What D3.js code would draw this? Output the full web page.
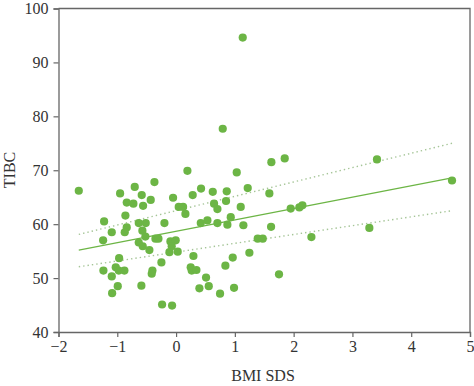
<!DOCTYPE html>
<html lang="en">
<head>
    <meta charset="UTF-8">
    <title>TIBC vs BMI SDS</title>
    <script src="https://d3js.org/d3.v7.min.js"></script>
    <style>
        body {background:#fff; margin:0}
        svg text {font-family:"Liberation Serif", "DejaVu Serif", serif; fill:#333}
    </style>
</head>
<body>
<svg id="chart" width="474" height="386"></svg>

<script>
// BMI SDS (x) and TIBC (y) for each child
var bmiSds = [-1.655, -1.224, -1.241, -1.236, -1.094, -1.094, -1.088, -0.952, -0.969, -1.026,
    -0.975, -0.992, -0.879, -0.839, -0.726, -0.703, -0.862, -0.839, -0.873, -0.584,
    -0.561, -0.635, -0.516, -0.573, -0.522, -0.635, -0.567, -0.590, -0.431, -0.368,
    -0.454, -0.351, -0.300, -0.402, -0.414, -0.249, -0.238, -0.198, -0.068, -0.051,
    -0.096, -0.006, -0.074, -0.113, 0.028, 0.045, 0.119, 0.159, 0.193, 0.283,
    0.295, 0.249, 0.266, 0.346, 0.425, 0.420, 0.397, 0.510, 0.533, 0.556,
    0.624, 0.646, 0.703, 0.703, 0.794, 0.748, 0.862, 0.850, 0.873, 0.930,
    0.839, 0.964, 0.986, 1.032, 1.100, 1.134, 1.145, 1.219, 1.247, 1.389,
    1.474, 1.587, 1.621, 1.616, 1.751, 1.848, 1.950, 2.097, 2.149, 2.302,
    3.288, 3.418, 4.694];
var tibc = [66.2, 60.5, 57.0, 51.4, 58.5, 50.3, 47.2, 65.7, 53.7, 52.0,
    51.4, 48.5, 51.4, 64.0, 63.8, 66.9, 61.6, 59.4, 58.5, 65.4,
    63.4, 60.2, 60.2, 58.8, 57.7, 56.6, 55.9, 48.6, 64.5, 67.8,
    55.2, 57.3, 57.3, 51.4, 50.8, 52.9, 45.1, 60.2, 44.9, 64.9,
    56.8, 57.0, 55.9, 54.8, 54.9, 63.2, 63.2, 61.9, 69.9, 65.4,
    54.1, 52.0, 51.4, 51.5, 66.6, 60.2, 48.1, 50.1, 60.7, 48.5,
    66.0, 63.8, 62.8, 60.2, 77.7, 47.1, 66.1, 64.3, 59.9, 61.3,
    52.3, 53.8, 48.2, 69.6, 63.2, 94.6, 59.8, 66.7, 54.7, 57.3,
    57.3, 65.7, 71.5, 59.5, 50.7, 72.2, 62.9, 63.1, 63.5, 57.6,
    59.3, 72.0, 68.1];

// fitted line and confidence band end points
var fitX = [-1.655, 4.694];
var fitY = [55.2, 68.6];
var upperY = [58.1, 75.0];
var lowerY = [52.1, 62.5];

var xTicks = [-2, -1, 0, 1, 2, 3, 4, 5];
var yTicks = [40, 50, 60, 70, 80, 90, 100];

var margin = {left: 58.5, right: 4, top: 8.5, bottom: 54};
var width = 474, height = 386;
var serif = "'Liberation Serif', 'DejaVu Serif', serif";

var svg = d3.select('#chart');

var x = d3.scaleLinear().domain([-2, 5]).range([margin.left, width - margin.right]);
var y = d3.scaleLinear().domain([40, 100]).range([height - margin.bottom, margin.top]);

var green = "#6cb545";

// frame (top + right)
svg.append("path")
    .attr("d", "M" + x(-2) + "," + y(100) + "H" + x(5) + "V" + y(40))
    .attr("fill", "none")
    .attr("stroke", "#666")
    .attr("stroke-width", 1.3);

// axes
var xAxis = svg.append("g")
    .attr("transform", "translate(0," + y(40) + ")")
    .call(d3.axisBottom(x).tickValues(xTicks).tickSize(5).tickPadding(4)
        .tickFormat(function(d){ return d < 0 ? "\u2212" + Math.abs(d) : d; }));
var yAxis = svg.append("g")
    .attr("transform", "translate(" + x(-2) + ",0)")
    .call(d3.axisLeft(y).tickValues(yTicks).tickSize(5).tickPadding(5));

[xAxis, yAxis].forEach(function(a){
    a.attr("font-family", serif).attr("font-size", 16);
    a.select(".domain").attr("stroke", "#666").attr("stroke-width", 1.3);
    a.selectAll(".tick line").attr("stroke", "#666").attr("stroke-width", 1.2);
    a.selectAll(".tick text").attr("fill", "#333");
});

// confidence band (dotted)
var line = d3.line()
    .x(function(d){ return x(d[0]); })
    .y(function(d){ return y(d[1]); });

[upperY, lowerY].forEach(function(band){
    svg.append("path")
        .datum(fitX.map(function(v, i){ return [v, band[i]]; }))
        .attr("d", line)
        .attr("fill", "none")
        .attr("stroke", "#a5c597")
        .attr("stroke-width", 1.4)
        .attr("stroke-dasharray", "1.4,3");
});

// points
svg.append("g").selectAll("circle")
    .data(bmiSds.map(function(v, i){ return [v, tibc[i]]; }))
    .enter()
    .append("circle")
    .attr("cx", function(d){ return x(d[0]); })
    .attr("cy", function(d){ return y(d[1]); })
    .attr("r", 4.1)
    .attr("fill", green);

// fit line
svg.append("path")
    .datum(fitX.map(function(v, i){ return [v, fitY[i]]; }))
    .attr("d", line)
    .attr("fill", "none")
    .attr("stroke", green)
    .attr("stroke-width", 1.2);

// axis titles
svg.append("text")
    .attr("x", 263)
    .attr("y", 381)
    .attr("text-anchor", "middle")
    .attr("font-size", "16px")
    .text("BMI SDS");

svg.append("text")
    .attr("transform", "translate(15,170) rotate(-90)")
    .attr("text-anchor", "middle")
    .attr("font-size", "16px")
    .text("TIBC");
</script>
</body>
</html>
